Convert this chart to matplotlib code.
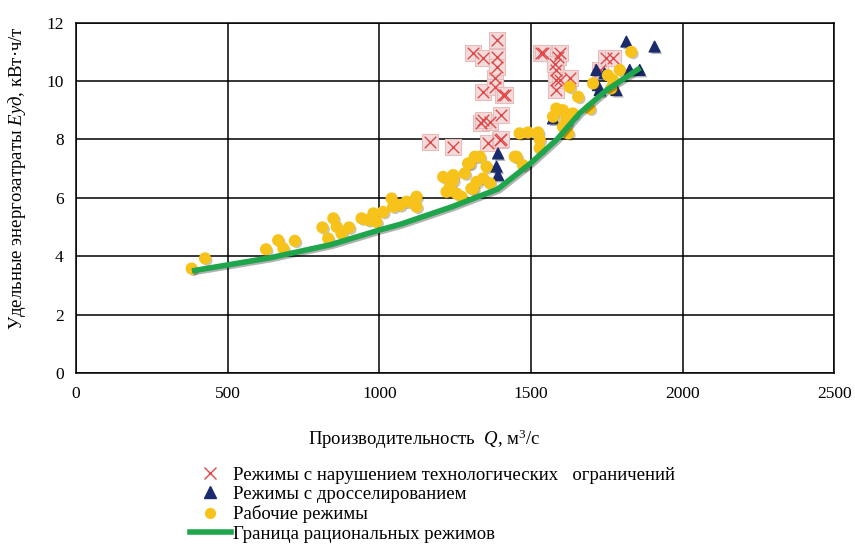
import matplotlib
matplotlib.use("Agg")
import matplotlib.pyplot as plt
import matplotlib.patheffects as pe
from matplotlib.lines import Line2D

# рабочие режимы
work_q = [381, 425, 626, 666, 683, 721, 812, 831, 848, 859, 875, 900, 941, 963, 980, 990,
          1012, 1040, 1045, 1067, 1089, 1122, 1122, 1210, 1221, 1232, 1243, 1243, 1254, 1270,
          1281, 1292, 1298, 1303, 1309, 1314, 1331, 1342, 1353, 1364, 1452, 1462, 1473, 1490,
          1523, 1528, 1528, 1572, 1583, 1594, 1605, 1605, 1616, 1616, 1622, 1627, 1638, 1655,
          1693, 1704, 1753, 1764, 1770, 1792, 1830, 1320, 1232, 1446]
work_e = [3.58, 3.93, 4.24, 4.55, 4.27, 4.53, 4.99, 4.61, 5.30, 5.01, 4.78, 4.99, 5.30, 5.24,
          5.47, 5.18, 5.52, 5.98, 5.70, 5.75, 5.87, 6.04, 5.70, 6.72, 6.21, 6.38, 6.78, 6.61,
          6.15, 6.04, 6.84, 7.18, 7.18, 6.32, 6.32, 7.41, 7.41, 6.67, 7.07, 6.50, 7.41, 8.21,
          7.12, 8.24, 8.24, 7.70, 8.0, 8.78, 9.06, 9.0, 9.0, 8.43, 8.55, 8.66, 8.21, 9.80,
          8.89, 9.46, 9.06, 9.92, 10.2, 9.75, 10.03, 10.38, 11.0, 6.55, 6.27, 7.41]

# режимы с дросселированием
thr_q = [1391, 1386, 1391, 1572, 1715, 1720, 1726, 1742, 1781, 1814, 1825, 1858, 1907]
thr_e = [7.52, 7.07, 6.78, 8.72, 10.38, 9.86, 9.69, 10.26, 9.69, 11.35, 10.38, 10.38, 11.18]

# режимы с нарушением ограничений
bad_q = [1166, 1243, 1309, 1336, 1342, 1342, 1358, 1364, 1380, 1380, 1386, 1386, 1386, 1397,
         1402, 1402, 1408, 1413, 1534, 1540, 1583, 1583, 1583, 1589, 1594, 1594, 1627, 1726,
         1748, 1770, 1342, 1578]
bad_e = [7.92, 7.75, 10.95, 8.55, 10.78, 9.63, 7.87, 8.61, 10.09, 9.81, 11.40, 10.83, 10.49,
         7.98, 8.84, 8.03, 9.52, 9.52, 10.95, 10.95, 10.38, 10.03, 9.69, 10.83, 10.95, 10.03,
         10.09, 10.38, 10.78, 10.78, 8.66, 10.6]

# граница рациональных режимов
bound_q = [382, 640, 840, 1000, 1070, 1240, 1390, 1500, 1585, 1660, 1750, 1860]
bound_e = [3.5, 3.95, 4.4, 4.9, 5.1, 5.7, 6.3, 7.2, 8.0, 8.9, 9.7, 10.45]

plt.rcParams['font.family'] = ['Liberation Serif', 'DejaVu Serif']
plt.rcParams['mathtext.fontset'] = 'custom'
plt.rcParams['mathtext.rm'] = 'Liberation Serif'
plt.rcParams['mathtext.it'] = 'Liberation Serif:italic'

fig = plt.figure(figsize=(8.55, 5.52), dpi=100)
ax = fig.add_axes([0.089, 0.324, 0.887, 0.635])

shadow = [pe.SimplePatchShadow(offset=(1.5, -1.5), alpha=0.3), pe.Normal()]

red = '#e04848'
navy = '#1a2a6c'
gold = '#f7c31a'
green = '#1fa64c'

ax.scatter(bad_q, bad_e, marker='s', s=120, color='#f4dada', edgecolors='#e6bcbc',
           linewidths=0.8, zorder=3)
ax.scatter(bad_q, bad_e, marker='x', s=70, color=red, linewidths=1.0, zorder=4)
ax.scatter(thr_q, thr_e, marker='^', s=60, color=navy, zorder=5, path_effects=shadow)
ax.scatter(work_q, work_e, marker='o', s=60, color=gold, zorder=6, path_effects=shadow)
ax.plot(bound_q, bound_e, color=green, lw=4, zorder=7, solid_capstyle='butt',
        path_effects=[pe.SimpleLineShadow(offset=(1.2, -1.2), alpha=0.3), pe.Normal()])

ax.set_xlim(0, 2500)
ax.set_ylim(0, 12)
ax.set_xticks([0, 500, 1000, 1500, 2000, 2500])
ax.set_yticks([0, 2, 4, 6, 8, 10, 12])
ax.grid(True, color='black', lw=1.1)
ax.set_axisbelow(True)
for s in ax.spines.values():
    s.set_color('black')
    s.set_linewidth(1.1)
ax.tick_params(length=0, labelsize=12.5, pad=9)

ax.set_xlabel('Производительность  $\\mathit{Q}$, м$^3$/с', fontsize=13.5)
ax.xaxis.set_label_coords(0.459, -0.155)
ax.set_ylabel('Удельные энергозатраты $\\mathit{Eуд}$, кВт·ч/т', fontsize=13.5)
ax.yaxis.set_label_coords(-0.064, 0.557)

handles = [
    Line2D([], [], ls='none', marker='x', ms=9, mec=red, mew=1.0),
    Line2D([], [], ls='none', marker='^', ms=8, color=navy),
    Line2D([], [], ls='none', marker='o', ms=7, color=gold),
    Line2D([], [], color=green, lw=4),
]
labels = [
    'Режимы с нарушением технологических   ограничений',
    'Режимы с дросселированием',
    'Рабочие режимы',
    'Граница рациональных режимов',
]
fig.legend(handles, labels, loc='upper left', bbox_to_anchor=(0.211, 0.172),
           frameon=False, fontsize=13.5, handlelength=2.2, handletextpad=0.1,
           labelspacing=0.12, borderpad=0)

fig.savefig('out.png', dpi=100)
